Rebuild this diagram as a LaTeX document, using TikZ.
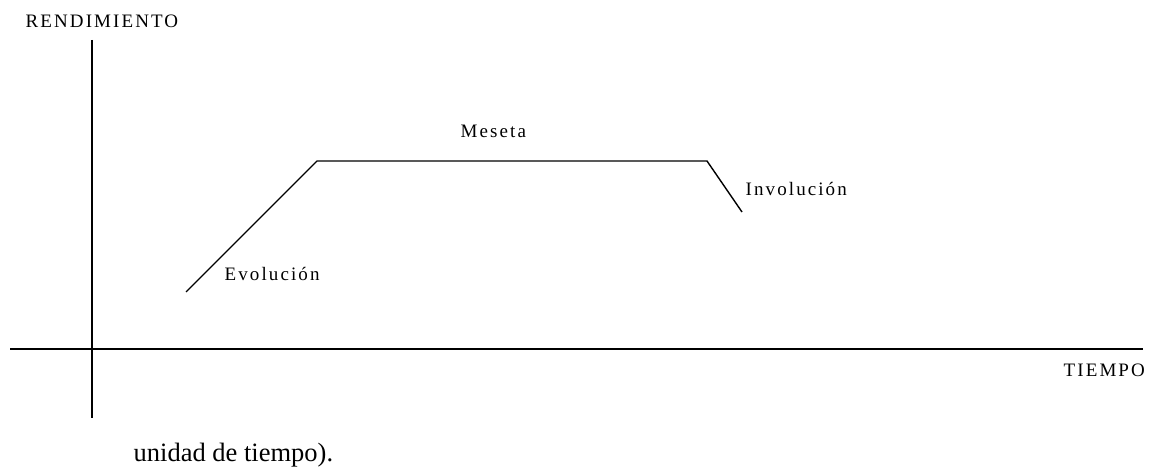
\documentclass[tikz,border=0pt]{standalone}
\usepackage{fontspec}
\setmainfont{Liberation Serif}
\newfontfamily\spacedfont[LetterSpace=11]{Liberation Serif}
\begin{document}
\begin{tikzpicture}[x=1pt,y=-1pt,line width=1.4pt,
    lbl/.style={font=\spacedfont\fontsize{19}{19}\selectfont,inner sep=0pt},
    caption/.style={font=\fontsize{26.5}{26.5}\selectfont,inner sep=0pt}]
        \useasboundingbox (0,0) rectangle (1153,468);
        %draw axes
        \coordinate (ytop) at (92,40);
        \coordinate (ybot) at (92,418);
        \coordinate (xleft) at (10,349);
        \coordinate (xright) at (1143,349);
        \draw (ytop) -- (ybot);
        \draw (xleft) -- (xright);
        %draw curve
        \coordinate (evostart) at (186,292);
        \coordinate (messtart) at (317,161);
        \coordinate (mesend) at (707,161);
        \coordinate (invend) at (742,212);
        \draw (evostart) -- (messtart) -- (mesend) -- (invend);
        %labels
        \node[lbl, anchor=base west] (rend) at (25,28) {RENDIMIENTO};
        \node[lbl, anchor=base west] (tiempo) at (1063,376) {TIEMPO};
        \node[lbl, anchor=base west] (meseta) at (460,138) {Meseta};
        \node[lbl, anchor=base west] (evo) at (224,280) {Evolución};
        \node[lbl, anchor=base west] (invo) at (745,195) {Involución};
        \node[caption, anchor=base west] (unidad) at (133,461) {unidad de tiempo).};
    \end{tikzpicture}
\end{document}
